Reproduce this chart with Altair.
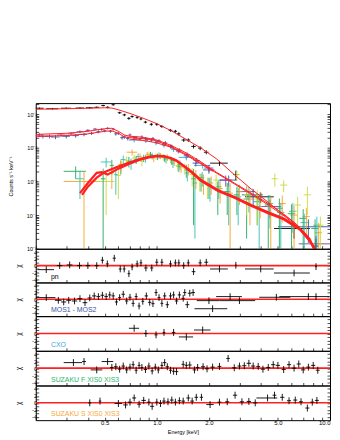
import altair as alt
import pandas as pd

RED = "#ff1f1f"

# ---------------- spectra: (energy keV, half bin width, rate, error) ----------------
pn = [(0.21,0.012,0.15,0.008),(0.25,0.02,0.145,0.008),(0.30,0.02,0.15,0.008),(0.36,0.02,0.152,0.008),
      (0.41,0.02,0.155,0.008),(0.45,0.015,0.16,0.008),(0.49,0.012,0.18,0.01),(0.52,0.012,0.16,0.01),
      (0.56,0.012,0.19,0.01),(0.61,0.015,0.11,0.008),(0.65,0.015,0.095,0.008),(0.69,0.015,0.075,0.007),
      (0.72,0.015,0.085,0.007),(0.77,0.015,0.08,0.007),(0.81,0.015,0.072,0.006),(0.86,0.02,0.058,0.005),
      (0.93,0.02,0.05,0.005),(1.0,0.02,0.05,0.005),(1.07,0.025,0.043,0.004),(1.2,0.03,0.033,0.003),
      (1.28,0.03,0.031,0.003),(1.34,0.03,0.026,0.003),(1.43,0.04,0.017,0.002),(1.52,0.04,0.017,0.002),
      (1.63,0.05,0.011,0.0015),(1.78,0.05,0.0098,0.0013),(1.93,0.06,0.0074,0.001),(2.3,0.27,0.0035,0.0006),
      (2.86,0.1,0.0016,0.0005),(3.98,0.75,0.00035,0.00012),(6.2,1.45,0.00004,0.00002),(8.3,0.3,0.000012,0.000008)]

mos1 = [(0.21,0.01,0.024,0.003),(0.24,0.012,0.022,0.003),(0.28,0.015,0.024,0.003),(0.32,0.015,0.026,0.003),
        (0.36,0.015,0.03,0.003),(0.40,0.012,0.033,0.003),(0.44,0.012,0.036,0.003),(0.48,0.012,0.035,0.003),
        (0.52,0.012,0.038,0.003),(0.56,0.012,0.036,0.003),(0.60,0.012,0.027,0.003),(0.65,0.015,0.021,0.0025),
        (0.70,0.015,0.024,0.0025),(0.76,0.015,0.02,0.0025),(0.82,0.015,0.021,0.0025),(0.88,0.02,0.018,0.002),
        (0.95,0.02,0.019,0.002),(1.03,0.025,0.016,0.002),(1.12,0.03,0.014,0.002),(1.22,0.03,0.011,0.0015),
        (1.35,0.04,0.0085,0.0012),(1.5,0.05,0.0062,0.001),(1.7,0.07,0.0042,0.0008),(2.0,0.12,0.0025,0.0006),
        (2.5,0.2,0.0011,0.0004),(3.3,0.4,0.0005,0.0002),(4.5,0.7,0.00018,0.0001),(8.3,1.7,0.000014,0.00001)]

mos2 = [(0.22,0.015,0.022,0.003),(0.26,0.015,0.021,0.003),(0.30,0.015,0.022,0.003),(0.34,0.015,0.023,0.003),
        (0.38,0.015,0.025,0.003),(0.42,0.012,0.027,0.003),(0.46,0.012,0.03,0.003),(0.50,0.012,0.032,0.003),
        (0.54,0.012,0.031,0.003),(0.58,0.012,0.026,0.003),(0.63,0.015,0.02,0.0025),(0.68,0.015,0.019,0.0025),
        (0.74,0.015,0.02,0.0025),(0.80,0.015,0.018,0.002),(0.86,0.02,0.019,0.002),(0.93,0.02,0.017,0.002),
        (1.0,0.025,0.015,0.002),(1.1,0.03,0.013,0.0018),(1.2,0.03,0.011,0.0015),(1.33,0.04,0.008,0.0012),
        (1.48,0.05,0.0058,0.001),(1.68,0.07,0.0035,0.0007),(2.0,0.15,0.0022,0.0005),(2.6,0.3,0.0011,0.0004),
        (3.6,0.5,0.0004,0.0002),(7.5,2.5,0.000045,0.00003)]

cxo = [(0.74,0.05,0.017,0.0025),(0.865,0.02,0.016,0.002),(0.99,0.02,0.014,0.002),(1.1,0.03,0.012,0.0018),
       (1.25,0.04,0.009,0.0015),(1.48,0.14,0.0052,0.001),(1.84,0.2,0.003,0.0006)]

suzf0 = [(0.34,0.05,0.002,0.0008),(0.49,0.015,0.0012,0.0012),(0.55,0.015,0.003,0.0014),(0.62,0.02,0.0028,0.0012),
         (0.69,0.02,0.004,0.0014),(0.76,0.02,0.0045,0.0012),(0.84,0.02,0.005,0.0012),(0.92,0.025,0.0062,0.0013),
         (1.01,0.025,0.0055,0.0012),(1.11,0.03,0.005,0.0012),(1.22,0.03,0.0042,0.0011),(1.34,0.04,0.0028,0.0009),
         (1.48,0.04,0.0022,0.0009),(1.63,0.05,0.0012,0.00115),(1.8,0.05,0.0011,0.0006),(2.0,0.06,0.0008,0.0005),
         (2.25,0.08,0.00055,0.00045),(2.55,0.1,0.0005,0.0004),(2.9,0.12,0.0004,0.0003),(3.3,0.14,0.0003,0.00028),
         (3.8,0.16,0.00025,0.0002),(4.4,0.2,0.0002,0.00019),(5.1,0.25,0.00016,0.00015),(6.0,0.3,0.00011,0.0001),
         (7.0,0.35,0.00008,0.00007),(8.2,0.4,0.00004,0.000035)]

suzf3 = [(0.36,0.02,0.0012,0.0009),(0.51,0.035,0.0038,0.0012),(0.58,0.015,0.0016,0.0012),(0.64,0.02,0.0045,0.0014),
         (0.71,0.02,0.0035,0.0013),(0.78,0.02,0.0055,0.0013),(0.86,0.02,0.0048,0.0012),(0.94,0.025,0.0058,0.0013),
         (1.03,0.025,0.006,0.0013),(1.13,0.03,0.0046,0.0012),(1.24,0.03,0.0035,0.001),(1.36,0.04,0.0032,0.001),
         (1.5,0.04,0.0018,0.0008),(1.66,0.05,0.0009,0.00088),(1.83,0.05,0.0013,0.0006),(2.03,0.06,0.00075,0.0005),
         (2.28,0.08,0.0007,0.0004),(2.6,0.1,0.0004,0.00035),(2.95,0.12,0.00035,0.0003),(3.4,0.14,0.0004,0.00028),
         (3.9,0.16,0.00018,0.00017),(4.5,0.2,0.00022,0.00018),(5.2,0.25,0.00012,0.00011),(6.1,0.3,0.00013,0.0001),
         (7.1,0.35,0.00006,0.00005),(8.4,0.4,0.00005,0.00004)]

suzs0 = [(0.38,0.09,0.001,0.001),(0.55,0.02,0.0018,0.0012),(0.62,0.02,0.0032,0.0013),(0.72,0.05,0.0074,0.0015),
         (0.8,0.02,0.0055,0.0013),(0.88,0.02,0.0062,0.0013),(0.96,0.025,0.005,0.0012),(1.05,0.025,0.0058,0.0012),
         (1.15,0.03,0.0052,0.0012),(1.26,0.03,0.004,0.0011),(1.38,0.04,0.0027,0.0009),(1.52,0.04,0.0024,0.0009),
         (1.68,0.05,0.0014,0.0008),(1.86,0.05,0.001,0.0006),(2.06,0.06,0.0009,0.0005),(2.32,0.08,0.00062,0.0004),
         (2.65,0.1,0.00045,0.00044),(3.0,0.12,0.0005,0.0003),(3.45,0.14,0.0003,0.00025),(3.95,0.16,0.00028,0.0002),
         (4.55,0.2,0.00018,0.00017),(5.3,0.25,0.00022,0.00016),(6.2,0.3,0.0001,0.00009),(7.3,0.35,0.00009,0.00007),
         (8.6,0.4,0.00003,0.000029)]

suzs3 = [(0.51,0.06,0.001,0.0009),(0.6,0.02,0.0015,0.0012),(0.67,0.02,0.0042,0.0014),(0.74,0.02,0.005,0.0013),
         (0.82,0.02,0.004,0.0012),(0.9,0.025,0.0065,0.0013),(0.99,0.025,0.0056,0.0012),(1.09,0.03,0.0053,0.0012),
         (1.2,0.03,0.0045,0.0011),(1.32,0.04,0.003,0.001),(1.45,0.04,0.0025,0.0009),(1.6,0.05,0.0016,0.0009),
         (1.77,0.05,0.0011,0.0006),(1.96,0.06,0.0008,0.0005),(2.2,0.08,0.0011,0.0005),(2.9,0.12,0.0016,0.0005),
         (3.3,0.14,0.0004,0.0003),(3.8,0.16,0.0003,0.00025),(4.8,0.2,0.0012,0.0005),(5.4,0.25,0.00078,0.0003),
         (6.5,0.3,0.0002,0.00015),(7.4,0.35,0.0004,0.0003),(8.8,0.4,0.00005,0.00004)]

# ---------------- models: (energy keV, rate) ----------------
pn_model = [(0.2,0.14),(0.3,0.145),(0.4,0.15),(0.5,0.155),(0.55,0.152),(0.6,0.135),(0.7,0.105),(0.8,0.082),
            (0.9,0.065),(1.0,0.052),(1.2,0.033),(1.5,0.017),(1.8,0.0098),(2.2,0.0048),(2.8,0.0016),(3.5,0.0006),
            (4.4,0.00024),(5.3,0.00011),(6.2,0.00006),(7.2,0.000028),(8.1,0.00001),(8.6,0.000006)]
mos1_model = [(0.2,0.025),(0.3,0.027),(0.4,0.031),(0.5,0.037),(0.55,0.038),(0.6,0.031),(0.65,0.024),(0.7,0.022),
              (0.8,0.021),(0.9,0.019),(1.0,0.017),(1.2,0.012),(1.5,0.0068),(1.8,0.0038),(2.2,0.0019),(2.8,0.0009),
              (3.5,0.00045),(4.4,0.00022),(5.5,0.0001),(6.5,0.00005),(7.5,0.00002),(8.3,0.00001),(8.8,0.000006)]
mos2_model = [(0.2,0.022),(0.3,0.023),(0.4,0.026),(0.5,0.031),(0.55,0.032),(0.6,0.027),(0.65,0.021),(0.7,0.02),
              (0.8,0.019),(0.9,0.018),(1.0,0.016),(1.2,0.011),(1.5,0.0062),(1.8,0.0035),(2.2,0.0018),(2.8,0.00085),
              (3.5,0.00042),(4.4,0.0002),(5.5,0.00009),(6.5,0.000045),(7.5,0.000018),(8.2,0.00001),(8.7,0.000006)]
cxo_model = [(0.7,0.018),(0.8,0.017),(0.9,0.0155),(1.0,0.014),(1.2,0.0105),(1.5,0.0058),(1.8,0.0033),(2.1,0.002)]
suzf_model = [(0.37,0.0004),(0.4,0.0007),(0.45,0.0013),(0.5,0.0019),(0.6,0.0028),(0.7,0.0037),(0.8,0.0046),
              (0.9,0.0054),(1.0,0.0058),(1.1,0.0057),(1.2,0.005),(1.3,0.0042),(1.46,0.0027),(1.6,0.0019),
              (1.8,0.0011),(2.0,0.0008),(2.26,0.00055),(2.83,0.00034),(3.5,0.0002),(4.36,0.000123),(5.4,0.00008),
              (6.7,0.00004),(7.6,0.00002),(8.1,0.00001),(8.5,0.000006)]
suzs_model = [(0.36,0.00045),(0.4,0.0009),(0.45,0.0018),(0.48,0.0019),(0.52,0.0016),(0.6,0.0024),(0.7,0.0034),
              (0.8,0.0044),(0.9,0.0052),(1.0,0.0056),(1.1,0.0055),(1.2,0.0049),(1.3,0.0041),(1.46,0.0026),
              (1.6,0.0018),(1.8,0.00105),(2.0,0.00076),(2.26,0.00052),(2.83,0.00032),(3.5,0.00019),(4.36,0.000115),
              (5.4,0.000075),(6.7,0.000037),(7.6,0.000018),(8.2,0.000009),(8.6,0.000006)]

# ---------------- residuals: (energy keV, half bin width, chi) ----------------
pn_res = [(0.23,0.025,-1.2),(0.275,0.01,0.0),(0.314,0.012,0.2),(0.358,0.012,0.0),(0.40,0.012,0.0),(0.45,0.012,0.0),
          (0.485,0.01,1.6),(0.518,0.01,0.5),(0.568,0.012,2.2),(0.615,0.012,-1.0),(0.648,0.012,-1.0),(0.69,0.012,-2.4),
          (0.72,0.012,-0.4),(0.77,0.015,0.5),(0.81,0.015,0.8),(0.865,0.02,-0.7),(0.935,0.02,-0.7),(1.0,0.02,1.0),
          (1.07,0.02,1.0),(1.2,0.025,0.5),(1.28,0.025,0.8),(1.34,0.025,0.8),(1.43,0.03,0.0),(1.52,0.03,0.8),
          (1.63,0.04,-1.8),(1.78,0.04,0.8),(1.93,0.05,1.0),(2.3,0.27,-1.0),(2.86,0.03,0.1),(3.98,0.75,-1.0),
          (6.2,1.45,-2.2),(8.3,0.1,-0.3)]
mos_res = [(0.23,0.03,0.5),(0.27,0.012,-0.3),(0.29,0.01,-0.8),(0.31,0.01,-0.3),(0.335,0.012,-0.5),(0.36,0.012,0.2),
           (0.385,0.012,-1.0),(0.41,0.012,0.4),(0.435,0.012,1.0),(0.46,0.012,0.8),(0.485,0.012,1.2),(0.51,0.012,0.8),
           (0.535,0.012,1.3),(0.56,0.012,1.0),(0.585,0.012,-0.8),(0.61,0.012,0.5),(0.64,0.015,1.5),(0.67,0.015,-0.5),
           (0.70,0.015,0.6),(0.73,0.015,-1.2),(0.76,0.015,0.8),(0.79,0.015,-2.0),(0.83,0.015,-0.6),(0.87,0.02,1.0),
           (0.91,0.02,-0.9),(0.95,0.02,-1.3),(0.99,0.02,2.0),(1.03,0.02,0.5),(1.07,0.02,-1.2),(1.11,0.025,1.0),
           (1.15,0.025,-1.6),(1.2,0.025,1.0),(1.25,0.025,1.3),(1.3,0.03,-0.5),(1.35,0.03,1.3),(1.42,0.03,0.3),
           (1.45,0.03,2.0),(1.5,0.04,-1.6),(1.55,0.04,1.8),(1.62,0.04,2.0),(2.0,0.3,-0.4),(2.1,0.45,-2.8),
           (2.65,0.45,0.8),(3.0,0.7,-0.4),(4.9,1.0,0.6),(7.5,2.4,0.8),(8.3,0.1,0.8)]
cxo_res = [(0.74,0.05,1.5),(0.865,0.02,0.0),(0.99,0.02,-0.4),(1.1,0.02,0.3),(1.25,0.03,0.3),(1.48,0.14,-1.0),
           (1.84,0.2,1.0)]
suzf_res = [(0.33,0.04,1.6),(0.38,0.01,1.9),(0.45,0.035,-0.5),(0.52,0.04,1.9),(0.55,0.012,0.2),(0.58,0.015,0.4),
            (0.61,0.015,-0.3),(0.64,0.015,0.6),(0.67,0.015,-0.5),(0.70,0.015,0.3),(0.73,0.015,1.0),(0.76,0.015,-0.6),
            (0.79,0.015,0.8),(0.82,0.015,0.2),(0.86,0.02,-0.4),(0.9,0.02,0.6),(0.94,0.02,-0.8),(0.98,0.02,0.3),
            (1.02,0.02,-0.5),(1.07,0.02,0.8),(1.11,0.025,1.6),(1.15,0.025,0.4),(1.2,0.025,-0.6),(1.25,0.025,-0.9),
            (1.3,0.03,-1.0),(1.42,0.03,1.1),(1.48,0.03,0.8),(1.55,0.04,0.9),(1.65,0.04,-0.5),(1.72,0.04,0.2),
            (1.85,0.05,0.4),(1.95,0.05,-0.2),(2.1,0.06,0.3),(2.3,0.06,0.5),(2.58,0.06,2.8),(2.8,0.08,0.1),
            (3.0,0.08,0.6),(3.2,0.09,0.7),(3.4,0.1,1.4),(3.6,0.1,0.6),(3.85,0.1,0.5),(4.1,0.12,-0.3),(4.4,0.12,0.2),
            (4.7,0.13,1.0),(5.0,0.14,0.8),(5.4,0.15,-0.4),(5.8,0.16,1.0),(6.2,0.17,0.0),(6.6,0.18,1.2),(7.0,0.2,-0.5),
            (7.5,0.2,0.3),(8.0,0.22,0.8),(8.5,0.22,-0.6)]
suzs_res = [(0.41,0.008,0.0),(0.47,0.008,0.5),(0.6,0.03,-0.2),(0.66,0.02,-0.6),(0.7,0.02,0.2),(0.74,0.02,1.4),
            (0.79,0.02,-0.4),(0.84,0.025,0.7),(0.9,0.02,0.2),(0.94,0.025,-1.0),(1.0,0.02,0.2),(1.05,0.02,-0.2),
            (1.1,0.025,0.5),(1.16,0.025,0.3),(1.22,0.03,0.8),(1.28,0.03,0.2),(1.35,0.03,0.6),(1.42,0.035,0.5),
            (1.52,0.04,1.4),(1.6,0.04,0.5),(1.69,0.04,1.6),(1.81,0.04,1.6),(2.03,0.1,-0.5),(2.3,0.06,0.2),
            (2.55,0.07,0.3),(2.83,0.08,2.2),(3.1,0.09,0.3),(3.4,0.1,0.4),(3.7,0.1,0.0),(4.36,0.6,1.4),(4.78,0.12,2.2),
            (5.3,0.15,1.6),(5.8,0.16,0.6),(6.3,0.17,0.8),(6.8,0.18,0.3),(7.4,0.2,-1.5),(7.9,0.2,0.2),(8.4,0.22,0.7)]

# ---------------- assemble tables ----------------
series_names = ["pn", "MOS1", "MOS2", "CXO", "SUZAKU F XIS0", "SUZAKU F XIS3", "SUZAKU S XIS0", "SUZAKU S XIS3"]
series_colors = ["#000000", "#8b3a9c", "#3452a8", "#2f9fdc", "#1fa85c", "#35bfb2", "#f5a11f", "#c9d93b"]
series_rows = [pn, mos1, mos2, cxo, suzf0, suzf3, suzs0, suzs3]

spectra = pd.concat(
    [pd.DataFrame(r, columns=["E", "dE", "rate", "err"]).assign(series=n, k=i)
     for i, (n, r) in enumerate(zip(series_names, series_rows))],
    ignore_index=True)

model_sets = [("pn", pn_model, "thin"), ("MOS1", mos1_model, "thin"), ("MOS2", mos2_model, "thin"),
              ("CXO", cxo_model, "thin"), ("SUZAKU F", suzf_model, "thick"), ("SUZAKU S", suzs_model, "thick")]
models = pd.concat(
    [pd.DataFrame(r, columns=["E", "m"]).assign(model=n, kind=kd) for n, r, kd in model_sets],
    ignore_index=True)

# ---------------- scales & axes ----------------
FONT = "Liberation Sans"
W = 297
TICK_IN = {"expr": "-3"}

x_scale = alt.Scale(type="log", domain=[0.2, 10], nice=False)
y_scale = alt.Scale(type="log", domain=[1e-5, 0.213], nice=False)
chi_scale = alt.Scale(domain=[-5, 5], nice=False, zero=False)
color_scale = alt.Scale(domain=series_names, range=series_colors)

x_ticks = [float(f"{k}e{e}") for e in (-1, 0) for k in range(1, 10)] + [10.0]
x_ticks = [v for v in x_ticks if v >= 0.2]
y_ticks = [float(f"{k}e{e}") for e in (-5, -4, -3, -2, -1) for k in range(1, 10)]
y_ticks = [v for v in y_ticks if v <= 0.213]
chi_ticks = [-4, -3, -2, -1, 0, 1, 2, 3, 4]


def x_axis(bottom):
    if bottom:
        return alt.Axis(values=x_ticks, tickSize=TICK_IN, domain=False, grid=False, labelOverlap=False,
                        labelExpr="indexof([0.5, 1, 2, 5, 10], datum.value) >= 0 ? format(datum.value, '.1f') : ''",
                        labelFontSize=6, labelPadding=2, title="Energy [keV]", titleFontSize=5.5,
                        titleFontWeight="normal", titlePadding=1, minExtent=8, maxExtent=8)
    return alt.Axis(values=x_ticks, tickSize=TICK_IN, domain=False, grid=False, labels=False, title=None,
                    minExtent=0, maxExtent=0, labelPadding=0)


main_left = alt.Axis(values=y_ticks, tickSize=TICK_IN, domain=False, grid=False, labelOverlap=False,
                     labelExpr="datum.value == 0.1 ? '10⁻¹' : datum.value == 0.01 ? '10⁻²' : "
                               "datum.value == 0.001 ? '10⁻³' : datum.value == 0.0001 ? '10⁻⁴' : "
                               "datum.value == 0.00001 ? '10⁻⁵' : ''",
                     labelFontSize=5.5, labelPadding=2, minExtent=14, maxExtent=14,
                     title="Counts s⁻¹ keV⁻¹", titleFontSize=5.5, titleFontWeight="normal", titlePadding=8)
main_right = alt.Axis(orient="right", values=y_ticks, tickSize=TICK_IN, domain=False, grid=False,
                      labels=False, title=None, minExtent=0, maxExtent=0, labelPadding=0)
chi_left = alt.Axis(values=chi_ticks, tickSize=TICK_IN, domain=False, grid=False, labelOverlap=False,
                    labelExpr="datum.value % 2 == 0 ? '' + datum.value : ''", labelFontSize=6, labelPadding=2,
                    minExtent=8, maxExtent=8, title="χ", titleFontSize=6.5, titleFontWeight="normal",
                    titlePadding=6)
chi_right = alt.Axis(orient="right", values=chi_ticks, tickSize=TICK_IN, domain=False, grid=False,
                     labels=False, title=None, minExtent=0, maxExtent=0, labelPadding=0)

# ---------------- main panel ----------------
sp = alt.Chart(spectra).transform_calculate(
    xlo="datum.E - datum.dE", xhi="datum.E + datum.dE",
    ylo="max(datum.rate - datum.err, 1e-8)", yhi="datum.rate + datum.err")

xerr = sp.mark_rule(clip=True, strokeWidth=0.9).encode(
    x=alt.X("xlo:Q", scale=x_scale, axis=x_axis(False)), x2="xhi:Q",
    y=alt.Y("rate:Q", scale=y_scale, axis=None),
    color=alt.Color("series:N", scale=color_scale, legend=None))
yerr = sp.mark_rule(clip=True, strokeWidth=0.9).encode(
    x=alt.X("E:Q", scale=x_scale, axis=x_axis(False)),
    y=alt.Y("ylo:Q", scale=y_scale, axis=main_left), y2="yhi:Q",
    color=alt.Color("series:N", scale=color_scale, legend=None))

mb = alt.Chart(models)
thin = mb.transform_filter("datum.kind == 'thin'").mark_line(clip=True, color=RED, strokeWidth=1).encode(
    x=alt.X("E:Q", scale=x_scale, axis=x_axis(False)),
    y=alt.Y("m:Q", scale=y_scale, axis=main_right), detail="model:N")
thick = mb.transform_filter("datum.kind == 'thick'").mark_line(clip=True, color=RED, strokeWidth=2.2).encode(
    x=alt.X("E:Q", scale=x_scale, axis=x_axis(False)),
    y=alt.Y("m:Q", scale=y_scale, axis=None), detail="model:N")

main = alt.layer(xerr, yerr, thin, thick).resolve_axis(y="independent").properties(width=W, height=147)


# ---------------- residual panels ----------------
def resid_panel(rows, label, label_color, h, bottom=False):
    df = pd.DataFrame(rows, columns=["E", "dE", "chi"])
    base = alt.Chart(df).transform_calculate(
        xlo="datum.E - datum.dE", xhi="datum.E + datum.dE", clo="datum.chi - 1", chi_hi="datum.chi + 1")
    xa = x_axis(bottom)
    zero = alt.Chart(pd.DataFrame({"v": [0.0]})).mark_rule(color=RED, strokeWidth=1.6).encode(
        y=alt.Y("v:Q", scale=chi_scale, axis=chi_right))
    hx = base.mark_rule(clip=True, color="black", strokeWidth=0.9).encode(
        x=alt.X("xlo:Q", scale=x_scale, axis=xa), x2="xhi:Q",
        y=alt.Y("chi:Q", scale=chi_scale, axis=None))
    vy = base.mark_rule(clip=True, color="black", strokeWidth=0.9).encode(
        x=alt.X("E:Q", scale=x_scale, axis=xa),
        y=alt.Y("clo:Q", scale=chi_scale, axis=chi_left), y2="chi_hi:Q")
    txt = alt.Chart(pd.DataFrame({"E": [0.245], "chi": [-3.3], "t": [label]})).mark_text(
        align="left", baseline="middle", fontSize=7, font=FONT, color=label_color).encode(
        x=alt.X("E:Q", scale=x_scale, axis=xa),
        y=alt.Y("chi:Q", scale=chi_scale, axis=None), text="t:N")
    return alt.layer(zero, hx, vy, txt).resolve_axis(y="independent").properties(width=W, height=h)


r1 = resid_panel(pn_res, "pn", "#000000", 34)
r2 = resid_panel(mos_res, "MOS1 - MOS2", "#3a50a8", 34)
r3 = resid_panel(cxo_res, "CXO", "#3aa6e0", 35)
r4 = resid_panel(suzf_res, "SUZAKU F XIS0 XIS3", "#2bb673", 35)
r5 = resid_panel(suzs_res, "SUZAKU S XIS0 XIS3", "#f7a83a", 35, bottom=True)

chart = alt.vconcat(main, r1, r2, r3, r4, r5, spacing=0, bounds="flush").properties(
    padding={"top": 92, "left": 0, "right": 0, "bottom": 0}
).configure_view(stroke="black", strokeWidth=1).configure_axis(
    labelFont=FONT, titleFont=FONT, labelColor="black", titleColor="black",
    tickColor="black", tickWidth=0.7)

chart.save("out.html", embed_options={"renderer": "svg", "actions": False})
